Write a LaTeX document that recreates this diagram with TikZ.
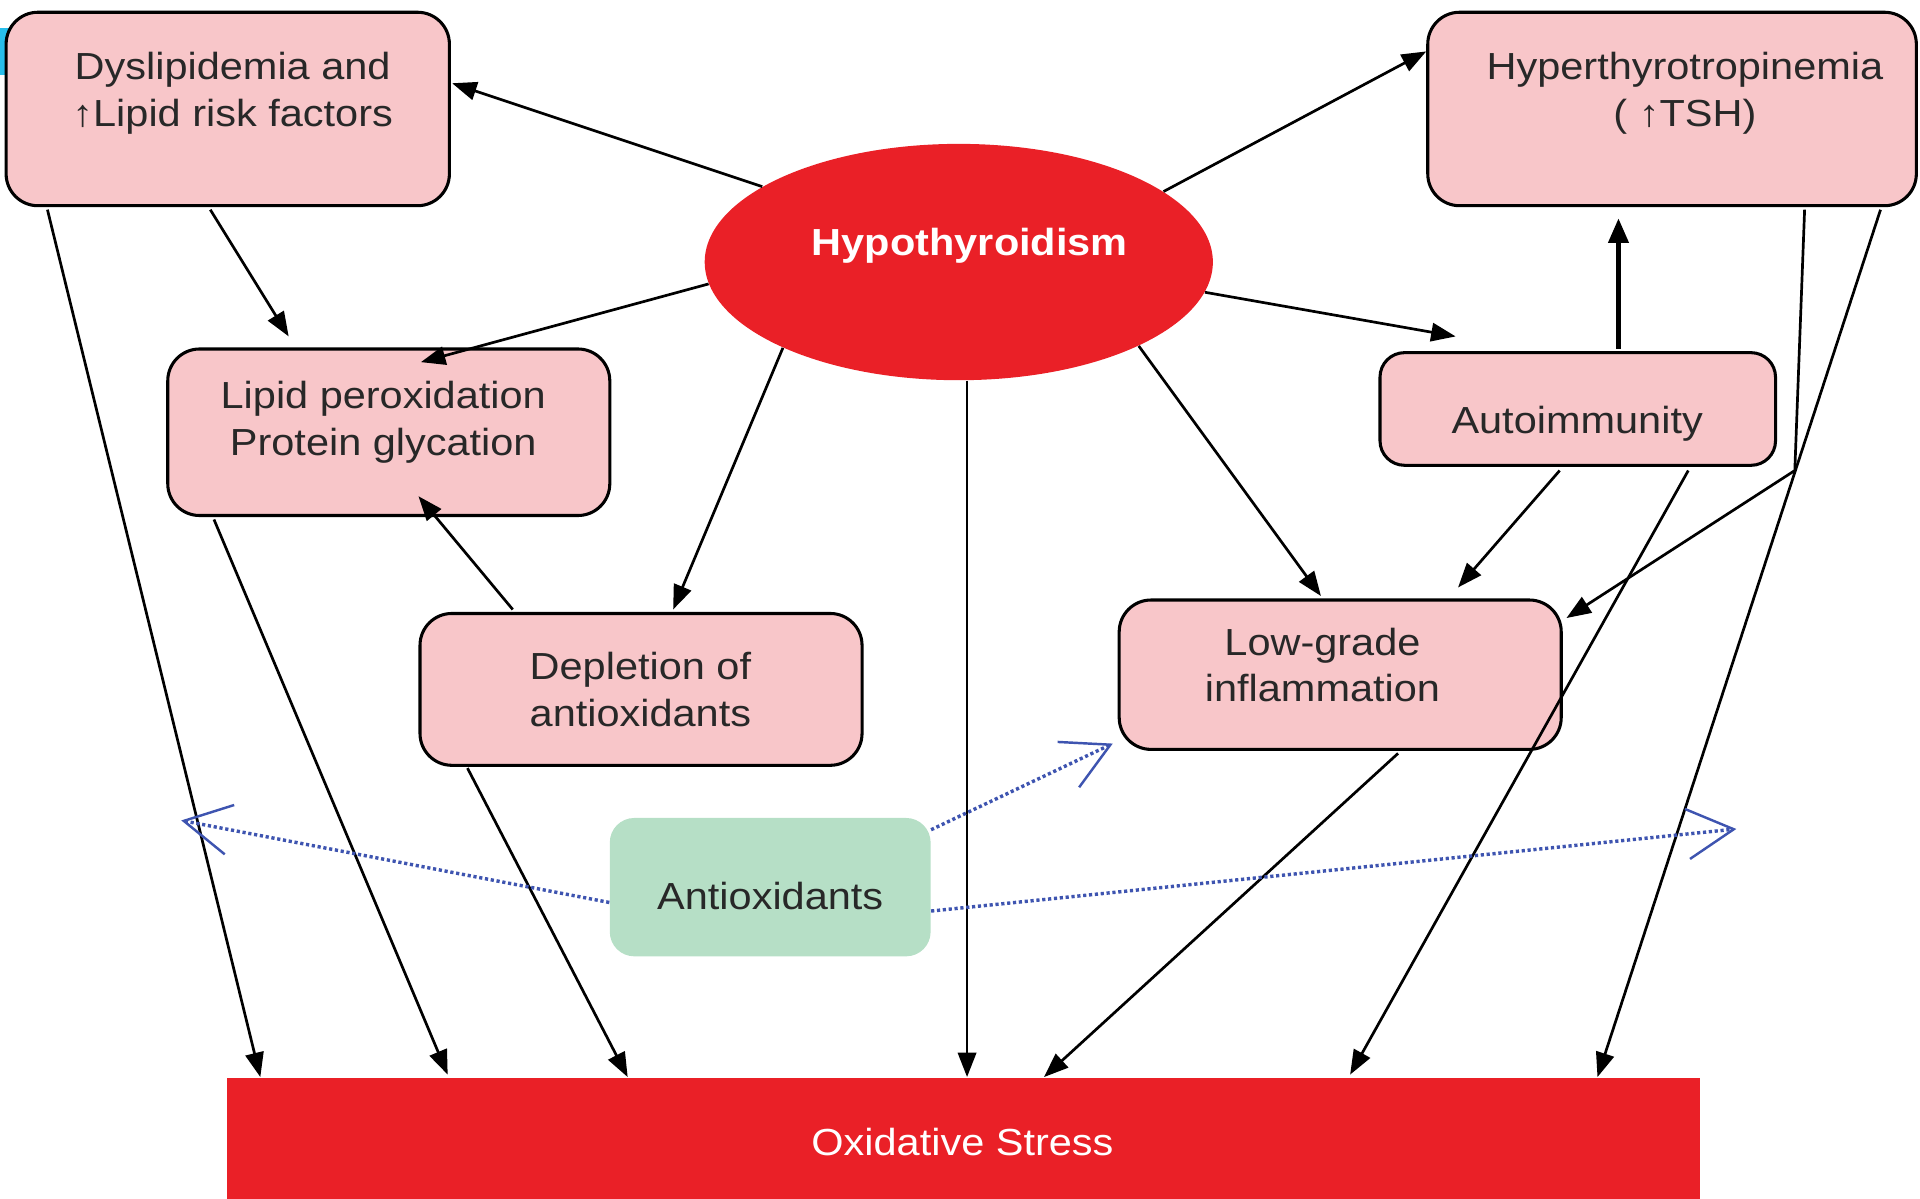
\documentclass[tikz,border=0pt]{standalone}
\usepackage{fontspec}
\setmainfont{Liberation Sans}[FakeStretch=1.1]
\usetikzlibrary{arrows.meta,shapes.geometric,calc}
\definecolor{boxpink}{RGB}{248,198,201}
\definecolor{hred}{RGB}{234,32,39}
\definecolor{agreen}{RGB}{182,223,198}
\definecolor{ablue}{RGB}{62,84,176}
\definecolor{txtgray}{RGB}{40,40,40}
\definecolor{tabcyan}{RGB}{40,190,235}
\begin{document}
\begin{tikzpicture}[x=0.5pt,y=-0.5pt,
  pbox/.style={draw=black, line width=1.25pt, fill=boxpink, rounded corners=13pt, inner sep=0pt},
  lbl/.style={inner sep=0pt, align=center, font=\fontsize{15.4pt}{19pt}\selectfont, text=txtgray},
  arr/.style={line width=1.1pt, -{Triangle[length=10pt,width=7.5pt]}},
  thickarr/.style={line width=2pt, -{Triangle[length=10pt,width=8pt]}},
  barr/.style={ablue, line width=1.4pt, dash pattern=on 1.3pt off 1.1pt,
    -{Straight Barb[length=19pt,width=20.5pt,line width=1pt]}}
]
\useasboundingbox (0,0) rectangle (1568,979);
\fill[tabcyan] (0,23) rectangle (7,61);

% boxes
\node[pbox, minimum width=181pt, minimum height=79pt] (dys) at (186,89) {};
\node[pbox, minimum width=199.5pt, minimum height=79pt] (hyp) at (1365.5,89) {};
\node[pbox, minimum width=180.5pt, minimum height=68pt] (lip) at (317.5,353) {};
\node[pbox, minimum width=180.5pt, minimum height=62pt] (dep) at (523.5,563) {};
\node[pbox, minimum width=161.5pt, minimum height=46pt, rounded corners=10pt] (aut) at (1288.5,334) {};
\node[pbox, minimum width=180.5pt, minimum height=61pt] (low) at (1094.5,551) {};
\node[fill=agreen, rounded corners=10pt, inner sep=0pt, minimum width=131pt, minimum height=56.5pt] (anti) at (629,724.5) {};
\node[fill=hred, inner sep=0pt, minimum width=601.5pt, minimum height=49.5pt] (oxs) at (786.5,929.5) {};
\node[ellipse, fill=hred, inner sep=0pt, minimum width=207.5pt, minimum height=96.5pt] (hypo) at (783,214) {};

% texts
\node[lbl] (dyst) at (190,76) {Dyslipidemia and\\↑Lipid risk factors};
\node[lbl] (hypt) at (1376,76) {Hyperthyrotropinemia\\( ↑TSH)};
\node[lbl, text=white, font=\fontsize{15.4pt}{19pt}\selectfont\bfseries] (hypot) at (792,201) {Hypothyroidism};
\node[lbl] (lipt) at (313,345) {Lipid peroxidation\\Protein glycation};
\node[lbl] (dept) at (523,563) {Depletion of\\antioxidants};
\node[lbl] (autt) at (1288,346) {Autoimmunity};
\node[lbl] (lowt) at (1080,543) {Low-grade\\inflammation};
\node[lbl] (antit) at (629,732) {Antioxidants};
\node[lbl, text=white] (oxst) at (786,933) {Oxidative Stress};

% arrows from hypothyroidism
\draw[arr] (hypo.159) -- ($(dys.east)+(1,-21)$);
\draw[arr] (hypo.19) -- ($(hyp.west)+(0,-47)$);
\draw[arr] (hypo.185) -- ($(lip.north west)+(208,12)$);
\draw[arr] (hypo.206) -- ($(dep.north west)+(208,-2)$);
\draw[arr] (hypo.274) -- (hypo.274 |- oxs.north);
\draw[arr] (hypo.335) -- ($(low.north west)+(166,-2)$);
\draw[arr] (hypo.353) -- ($(aut.north west)+(63,-12)$);

% other arrows
\draw[arr] ($(dys.south west)+(168,2)$) -- ($(lip.north west)+(100,-9)$);
\draw[arr] ($(dep.north west)+(77,-2)$) -- ($(lip.south west)+(206,-17)$);
\draw[thickarr] ($(aut.north west)+(196,-2)$) -- ($(hyp.south west)+(157,9)$);
\draw[arr] ($(aut.south west)+(148,3)$) -- ($(low.north west)+(278,-9)$);
\draw[arr] ($(hyp.south west)+(309,2)$) -- ($(hyp.south west)+(301,215)$) -- ($(low.north east)+(3,16)$);

% arrows to oxidative stress
\draw[arr] ($(dys.south west)+(35,2)$) -- ($(oxs.north west)+(28,0)$);
\draw[arr] ($(lip.south west)+(39,2)$) -- ($(oxs.north west)+(181,-2)$);
\draw[arr] ($(dep.south west)+(40,1)$) -- ($(oxs.north west)+(328,0)$);
\draw[arr] ($(low.south west)+(229,2)$) -- ($(oxs.north west)+(668,0)$);
\draw[arr] ($(aut.south west)+(253,3)$) -- ($(oxs.north west)+(918,-2)$);
\draw[arr] ($(hyp.south west)+(371,2)$) -- ($(oxs.north west)+(1120,0)$);

% antioxidant dotted arrows
\coordinate (lfree) at (148,670);
\coordinate (rfree) at (1418,677);
\draw[barr] ($(anti.west)+(0,12.5)$) -- (lfree);
\draw[barr] ($(anti.north east)+(0,10)$) -- ($(low.south west)+(-4,-6)$);
\draw[barr] ($(anti.east)+(0,19.5)$) -- (rfree);
\end{tikzpicture}
\end{document}
